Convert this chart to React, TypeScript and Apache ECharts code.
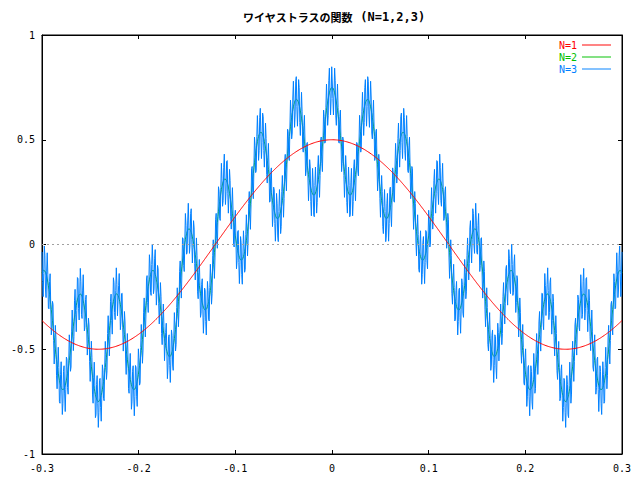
import React, { useEffect, useRef } from 'react';
import * as echarts from 'echarts';

// Weierstrass function W_N(x) = sum_{n=1..N} a^n cos(b^n x), a = 1/2, b = 13
const seriesNames = ['N=1', 'N=2', 'N=3'];
const seriesColors = ['#ff0000', '#00c000', '#0080ff'];
const termAmplitudes = [0.5, 0.25, 0.125];
const termFrequencies = [13, 169, 2197];
const xRange = [-0.3, 0.3];
const sampleCount = 1000;
const yRange = [-1, 1];

function buildSeries(nTerms: number): number[][] {
  const pts: number[][] = [];
  for (let i = 0; i < sampleCount; i++) {
    const x = xRange[0] + ((xRange[1] - xRange[0]) * i) / (sampleCount - 1);
    let y = 0;
    for (let k = 0; k < nTerms; k++) y += termAmplitudes[k] * Math.cos(termFrequencies[k] * x);
    pts.push([x, y]);
  }
  return pts;
}

const MONO = '"DejaVu Sans Mono", monospace';

export default function App() {
  const ref = useRef<HTMLDivElement>(null);
  useEffect(() => {
    if (!ref.current) return;
    const chart = echarts.init(ref.current, undefined, { renderer: 'svg' });
    const fmt = (v: number) => String(Math.round(v * 10) / 10);
    const axisCommon = {
      type: 'value' as const,
      axisLine: { show: true, onZero: false, lineStyle: { color: '#000', width: 1 } },
      axisTick: { show: true, inside: true, length: 4, lineStyle: { color: '#000' } },
      splitLine: { show: false },
    };
    const zList = [4, 2, 3];
    chart.setOption({
      animation: false,
      backgroundColor: '#fff',
      title: {
        text: '{a|ワイヤストラスの関数}{b| (N=1,2,3)}',
        left: 243,
        top: 5,
        padding: 0,
        textStyle: {
          rich: {
            a: { fontFamily: '"Noto Sans CJK JP"', fontWeight: 'bold', fontSize: 11, color: '#000', lineHeight: 24 },
            b: { fontFamily: MONO, fontSize: 12, color: '#000', lineHeight: 24 },
          },
        },
      },
      legend: {
        orient: 'vertical',
        right: 29,
        top: 39,
        padding: 0,
        align: 'right',
        itemGap: 0,
        itemWidth: 29,
        itemHeight: 12,
        icon: 'path://M0,6 L30,6 L30,7 L0,7 Z',
        data: seriesNames.map((n, i) => ({
          name: n,
          itemStyle: { color: seriesColors[i] },
          textStyle: { color: seriesColors[i], fontFamily: MONO, fontSize: 10, lineHeight: 12 },
        })),
        textStyle: { fontFamily: MONO, fontSize: 10 },
      },
      grid: { left: 42, right: 18, top: 35, bottom: 26, show: true, borderColor: '#000', borderWidth: 1 },
      xAxis: [
        {
          ...axisCommon,
          position: 'bottom',
          min: xRange[0],
          max: xRange[1],
          interval: 0.1,
          axisLabel: { formatter: fmt, fontFamily: MONO, fontSize: 10, color: '#000', margin: 9 },
        },
        {
          ...axisCommon,
          position: 'top',
          min: xRange[0],
          max: xRange[1],
          interval: 0.1,
          axisLabel: { show: false },
        },
      ],
      yAxis: [
        {
          ...axisCommon,
          position: 'left',
          min: yRange[0],
          max: yRange[1],
          interval: 0.5,
          axisLabel: { fontFamily: MONO, fontSize: 10, color: '#000', margin: 7 },
        },
        {
          ...axisCommon,
          position: 'right',
          min: yRange[0],
          max: yRange[1],
          interval: 0.5,
          axisLabel: { show: false },
        },
      ],
      series: seriesNames.map((name, i) => ({
        name,
        type: 'line',
        data: buildSeries(i + 1),
        showSymbol: false,
        symbol: 'none',
        z: zList[i],
        lineStyle: { color: seriesColors[i], width: 1 },
        itemStyle: { color: seriesColors[i] },
        emphasis: { disabled: true },
        ...(i === 0
          ? {
              markLine: {
                silent: true,
                symbol: 'none',
                label: { show: false },
                lineStyle: { color: '#a0a0a0', type: [2, 3], width: 1 },
                data: [{ yAxis: 0 }],
              },
            }
          : {}),
      })),
    });
    return () => chart.dispose();
  }, []);
  return <div ref={ref} style={{ width: 640, height: 480, margin: -8 }} />;
}
